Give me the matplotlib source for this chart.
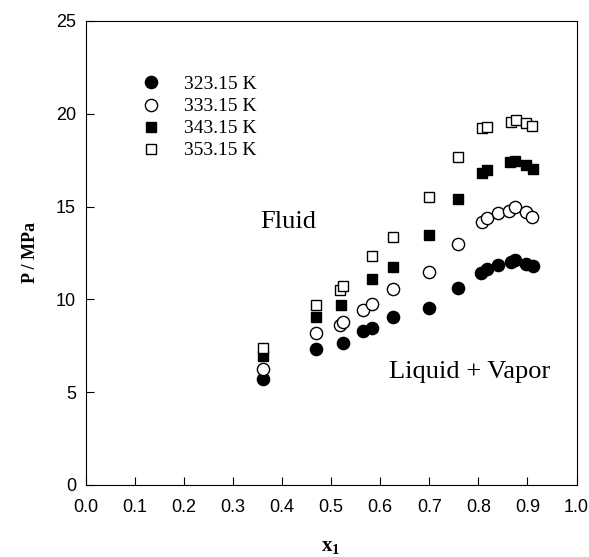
import matplotlib.pyplot as plt

# dati: frazione molare x1 e pressione (MPa)
x_323 = [0.361, 0.470, 0.524, 0.564, 0.583, 0.626, 0.700, 0.758, 0.805, 0.817, 0.841, 0.866, 0.875, 0.898, 0.911]
p_323 = [5.71, 7.34, 7.65, 8.30, 8.44, 9.07, 9.55, 10.63, 11.44, 11.62, 11.85, 12.02, 12.14, 11.89, 11.80]

x_333 = [0.361, 0.470, 0.518, 0.525, 0.564, 0.583, 0.626, 0.700, 0.758, 0.807, 0.818, 0.841, 0.863, 0.875, 0.898, 0.910]
p_333 = [6.23, 8.21, 8.62, 8.77, 9.43, 9.74, 10.54, 11.48, 12.98, 14.19, 14.37, 14.64, 14.78, 15.00, 14.73, 14.42]

x_343 = [0.361, 0.470, 0.520, 0.583, 0.626, 0.700, 0.758, 0.807, 0.818, 0.865, 0.875, 0.898, 0.911]
p_343 = [6.95, 9.04, 9.70, 11.08, 11.76, 13.47, 15.39, 16.83, 16.97, 17.39, 17.46, 17.24, 17.01]

x_353 = [0.361, 0.470, 0.518, 0.525, 0.583, 0.626, 0.700, 0.758, 0.807, 0.818, 0.866, 0.876, 0.898, 0.910]
p_353 = [7.40, 9.70, 10.51, 10.72, 12.34, 13.35, 15.53, 17.67, 19.22, 19.27, 19.58, 19.67, 19.49, 19.34]

labels = ['323.15 K', '333.15 K', '343.15 K', '353.15 K']

plt.rcParams['font.family'] = 'Liberation Sans'
plt.rcParams['mathtext.fontset'] = 'custom'
plt.rcParams['mathtext.rm'] = 'Liberation Serif'
plt.rcParams['mathtext.bf'] = 'Liberation Serif:bold'

fig = plt.figure(figsize=(5.89, 5.57), dpi=100)
ax = fig.add_axes([0.1455, 0.1293, 0.8333, 0.833])

ax.plot(x_323, p_323, 'o', color='black', markersize=8.8, label=labels[0])
ax.plot(x_333, p_333, 'o', mfc='white', mec='black', mew=1.0, markersize=8.8, label=labels[1])
ax.plot(x_343, p_343, 's', color='black', markersize=7.6, label=labels[2])
ax.plot(x_353, p_353, 's', mfc='white', mec='black', mew=1.0, markersize=7.6, label=labels[3])

ax.set_xlim(0, 1.0)
ax.set_ylim(0, 25)
ax.set_xticks([i / 10 for i in range(11)])
ax.set_xticklabels([f'{i / 10:.1f}' for i in range(11)])
ax.set_yticks([0, 5, 10, 15, 20, 25])
ax.tick_params(direction='in', length=5.5, labelsize=13, top=False, right=False)
ax.tick_params(axis='x', pad=10)
ax.tick_params(axis='y', pad=7)

ax.set_xlabel(r'$\mathbf{x}_\mathbf{1}$', fontsize=15, labelpad=16)
ax.set_ylabel('P / MPa', fontsize=13, fontweight='bold', family='Liberation Serif', labelpad=12)

ax.text(0.412, 14.17, 'Fluid', fontsize=19, family='Liberation Serif', ha='center', va='center')
ax.text(0.782, 6.09, 'Liquid + Vapor', fontsize=19, family='Liberation Serif', ha='center', va='center')

leg = ax.legend(loc='upper left', bbox_to_anchor=(0.077, 0.920), frameon=False,
                prop={'family': 'Liberation Serif', 'size': 14},
                handletextpad=1.23, labelspacing=0.23, handlelength=1.0)

plt.savefig('out.png')
